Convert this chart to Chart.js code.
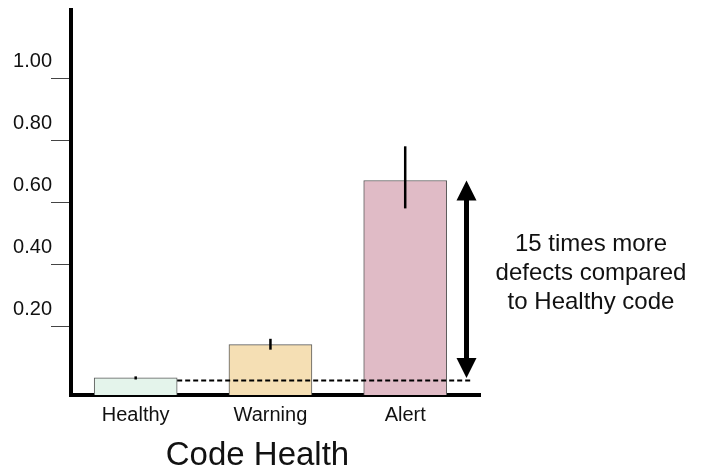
<!DOCTYPE html>
<html><head><meta charset="utf-8">
<script src="https://cdn.jsdelivr.net/npm/chart.js@4/dist/chart.umd.min.js"></script>
<style>html,body{margin:0;padding:0;background:#fff}</style>
</head><body>
<canvas id="c" width="704" height="473"></canvas>
<script>
const categories = ['Healthy', 'Warning', 'Alert'];
const defectRate = [0.035, 0.142, 0.671];
const errLow = [0.030, 0.126, 0.581];
const errHigh = [0.040, 0.161, 0.781];
const yTicks = [0.2, 0.4, 0.6, 0.8, 1.0];
const barColors = ['#e4f4eb', '#f5dfb4', '#e0bbc6'];
const xTitle = 'Code Health';
const noteLines = ['15 times more', 'defects compared', 'to Healthy code'];

const F = '"Liberation Sans", Arial, sans-serif';
const Y_MIN = -0.02, Y_MAX = 1.22;

const annot = {
  id: 'annot',
  afterDatasetsDraw(chart) {
    const {ctx, scales: {x, y}, chartArea} = chart;
    ctx.save();
    // error bars
    ctx.strokeStyle = '#000';
    ctx.lineWidth = 2.5;
    categories.forEach((c, i) => {
      const px = x.getPixelForValue(i);
      ctx.beginPath();
      ctx.moveTo(px, y.getPixelForValue(errHigh[i]));
      ctx.lineTo(px, y.getPixelForValue(errLow[i]));
      ctx.stroke();
    });
    // dashed reference line at Healthy level
    const hb = chart.getDatasetMeta(0).data[0];
    const yRef = y.getPixelForValue(defectRate[0]) + 2.5;
    const ax = chartArea.right - 13.5;
    ctx.setLineDash([5, 3]);
    ctx.lineWidth = 2;
    ctx.beginPath();
    ctx.moveTo(hb.x + hb.width / 2, yRef);
    ctx.lineTo(ax + 5, yRef);
    ctx.stroke();
    ctx.setLineDash([]);
    // double arrow between Healthy and Alert levels
    const yTop = y.getPixelForValue(defectRate[2]);
    const yBot = y.getPixelForValue(defectRate[0]);
    const hw = 10, hh = 20;
    ctx.fillStyle = '#000';
    ctx.fillRect(ax - 2.5, yTop + hh - 1, 5, (yBot - yTop) - 2 * hh + 2);
    ctx.beginPath();
    ctx.moveTo(ax, yTop); ctx.lineTo(ax + hw, yTop + hh); ctx.lineTo(ax - hw, yTop + hh);
    ctx.closePath(); ctx.fill();
    ctx.beginPath();
    ctx.moveTo(ax, yBot); ctx.lineTo(ax + hw, yBot - hh); ctx.lineTo(ax - hw, yBot - hh);
    ctx.closePath(); ctx.fill();
    // note text
    ctx.fillStyle = '#111';
    ctx.textAlign = 'center';
    ctx.textBaseline = 'middle';
    ctx.font = '24px ' + F;
    noteLines.forEach((t, k) => ctx.fillText(t, 591, 244.5 + k * 28.8));
    // axis title
    ctx.font = '33px ' + F;
    ctx.fillText(xTitle, 257.5, 456);
    ctx.restore();
  }
};

new Chart(document.getElementById('c'), {
  type: 'bar',
  data: {
    datasets: [{
      data: categories.map((c, i) => ({x: i, y: defectRate[i]})),
      backgroundColor: barColors,
      borderColor: '#5a5a5a',
      borderWidth: 1,
      barThickness: 83,
      base: Y_MIN
    }]
  },
  options: {
    responsive: false,
    animation: false,
    layout: {padding: {left: 0, right: 224, top: 10, bottom: 0}},
    plugins: {legend: {display: false}, tooltip: {enabled: false}},
    scales: {
      x: {
        type: 'linear', min: -0.48, max: 2.555, z: 1, offset: false,
        afterBuildTicks: s => { s.ticks = categories.map((c, i) => ({value: i})); },
        afterFit: s => { s.height = 78; s.paddingLeft = 0; s.paddingRight = 0; s.paddingTop = 0; s.paddingBottom = 0; },
        grid: {display: false, drawTicks: false, offset: false},
        border: {display: true, color: '#000', width: 4},
        ticks: {
          callback: v => categories[v],
          font: {size: 20, family: F}, color: '#111', padding: 8,
          maxRotation: 0, autoSkip: false
        }
      },
      y: {
        min: Y_MIN, max: Y_MAX, z: 1,
        afterBuildTicks: s => { s.ticks = yTicks.map(v => ({value: v})); },
        afterFit: s => { s.width = 71; s.paddingTop = 0; s.paddingBottom = 0; s.paddingLeft = 0; s.paddingRight = 0; },
        grid: {drawOnChartArea: false, drawTicks: true, tickLength: 20, color: '#444', lineWidth: 1},
        border: {display: true, color: '#000', width: 4},
        ticks: {
          callback: v => v.toFixed(2),
          font: {size: 20, family: F}, color: '#111', padding: -1, labelOffset: -17
        }
      }
    }
  },
  plugins: [annot]
});
</script>
</body></html>
